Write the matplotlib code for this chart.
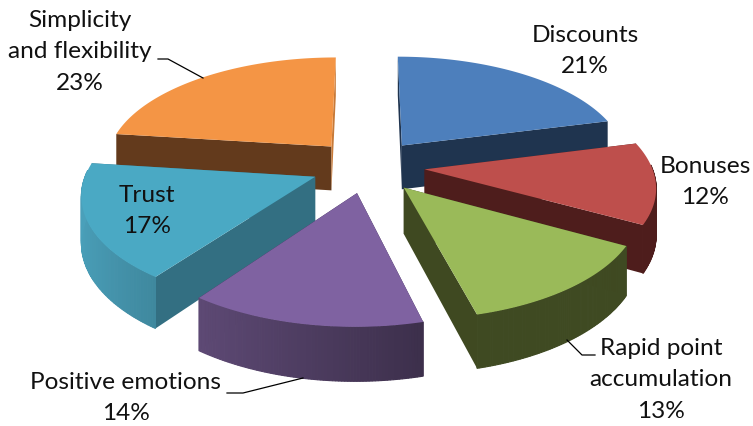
import numpy as np
import matplotlib
matplotlib.use("Agg")
import matplotlib.pyplot as plt
from matplotlib.colors import to_rgb

labels = ["Discounts\n21%", "Bonuses\n12%", "Rapid point\naccumulation\n13%",
          "Positive emotions\n14%", "Trust\n17%", "Simplicity\nand flexibility\n23%"]
values = [21, 12, 13, 14, 17, 23]
top_colors = ["#4D7FBC", "#BE4F4C", "#9ABA59", "#7F62A1", "#4AA9C4", "#F49545"]
wall_colors = ["#1F344F", "#4E1D1C", "#3F4A22", "#6E5689", "#4AA0BA", "#633A1C"]
start_wall = ["#1F344F", "#4E1D1C", "#3F4921", "#33264A", "#336F82", "#633A1C"]
end_wall = ["#1F344F", "#4E1D1C", "#3F4921", "#33264A", "#336F82", "#C87A38"]
shaded = [False, False, False, True, True, False]
label_xy = [(585, 51), (705, 182), (661, 380), (126, 398), (147, 211), (80, 52)]
leaders = [None, None, [(595, 355), (582, 355), (567, 340)],
           [(227, 393), (243, 393), (303, 378)], None,
           [(158, 59), (168, 59), (203, 78)]]

# pie geometry in pixels
cx, cy = 368, 166
a, c, k = 227, 106.6, 0.14
depth = 45
explode = 0.25

def project(x, y, drop=0.0):
    s = 1 / (1 + k * y)
    return cx + a * x * s, cy - c * y * s + drop * s

plt.rcParams["font.family"] = ["Lato", "DejaVu Sans"]
fig = plt.figure(figsize=(7.53, 4.26), dpi=100)
ax = fig.add_axes([0, 0, 1, 1])
ax.set_xlim(0, 753)
ax.set_ylim(426, 0)
ax.axis("off")

edges = np.cumsum([0] + values) / sum(values) * 2 * np.pi
wedges = []
for i in range(len(values)):
    mid = (edges[i] + edges[i + 1]) / 2
    wedges.append((np.cos(mid), i))

# back to front so that nearer slices cover the others
for _, i in sorted(wedges, reverse=True):
    t0, t1 = edges[i], edges[i + 1]
    mid = (t0 + t1) / 2
    ox, oy = explode * np.sin(mid), explode * np.cos(mid)
    t = np.linspace(t0, t1, 80)
    ex, ey = ox + np.sin(t), oy + np.cos(t)

    # radial walls
    for tt, col in ((t0, start_wall[i]), (t1, end_wall[i])):
        px, py = ox + np.sin(tt), oy + np.cos(tt)
        p = [project(ox, oy), project(px, py), project(px, py, depth), project(ox, oy, depth)]
        ax.fill(*zip(*p), color=col, lw=0)

    # outer wall, shaded along the arc
    base = np.array(to_rgb(wall_colors[i]))
    for j in range(len(t) - 1):
        if np.cos(t[j]) > 0.05:
            continue
        shade = 1.0
        if shaded[i]:
            shade = 1.0 - 0.36 * (np.sin(t[j]) + 1)
        col = tuple(base * shade)
        p = [project(ex[j], ey[j]), project(ex[j + 1], ey[j + 1]),
             project(ex[j + 1], ey[j + 1], depth), project(ex[j], ey[j], depth)]
        ax.fill(*zip(*p), color=col, lw=0.8, ec=col)

    # top face
    xs, ys = project(np.r_[ox, ex], np.r_[oy, ey])
    ax.fill(xs, ys, color=top_colors[i], lw=0)

for i, text in enumerate(labels):
    ax.text(label_xy[i][0], label_xy[i][1], text, ha="center", va="center",
            fontsize=17.6, color="#111111", linespacing=1.6)
    if leaders[i]:
        ax.plot(*zip(*leaders[i]), color="black", lw=0.9)

fig.savefig("out.png", dpi=100)
